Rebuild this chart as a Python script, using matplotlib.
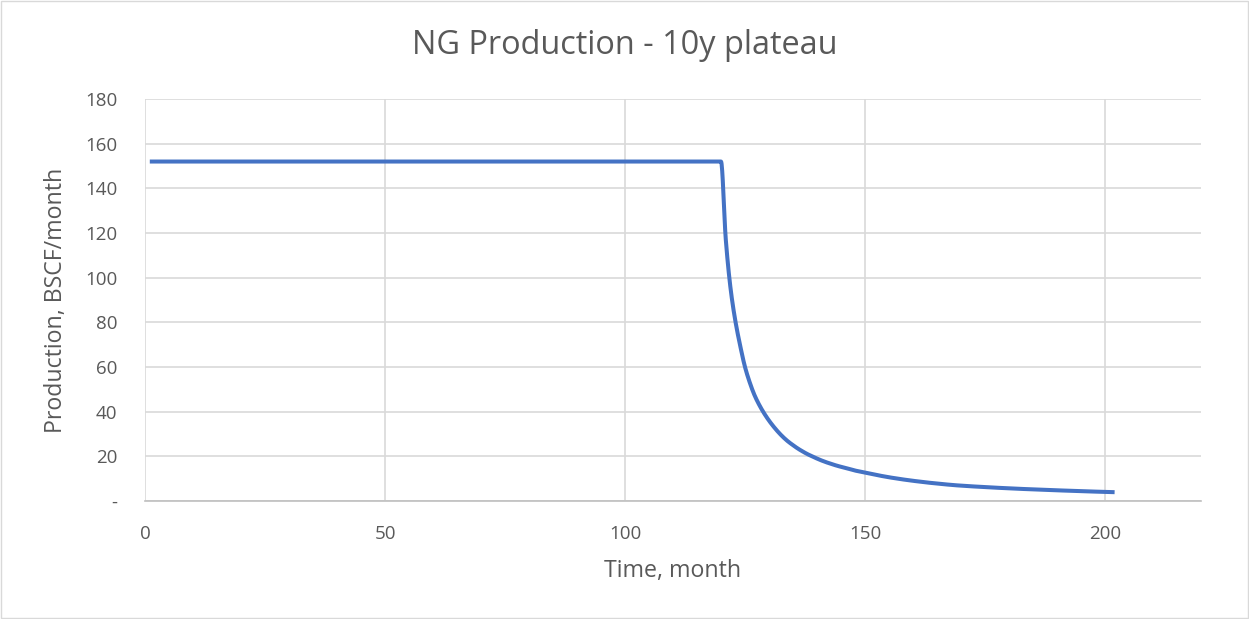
import numpy as np
import matplotlib
matplotlib.use("Agg")
import matplotlib.pyplot as plt
from matplotlib.patches import Rectangle

# ---- data ----
plateau_months = list(range(1, 121))
plateau_values = [152.0] * len(plateau_months)

decline_months = list(range(121, 203))
decline_values = [
    117.0, 95.0, 80.5, 69.5, 60.0, 53.0, 47.3, 42.9, 39.2, 36.0,
    33.2, 30.7, 28.5, 26.6, 25.0, 23.5, 22.2, 21.0, 20.0, 19.0,
    18.1, 17.3, 16.6, 15.9, 15.3, 14.7, 14.2, 13.6, 13.2, 12.7,
    12.25, 11.8, 11.4, 11.0, 10.6, 10.3, 9.95, 9.63, 9.33, 9.05,
    8.78, 8.52, 8.27, 8.04, 7.81, 7.60, 7.40, 7.20, 7.03, 6.88,
    6.74, 6.60, 6.47, 6.34, 6.22, 6.10, 5.99, 5.88, 5.77, 5.67,
    5.57, 5.47, 5.38, 5.29, 5.20, 5.11, 5.03, 4.95, 4.87, 4.79,
    4.71, 4.63, 4.55, 4.48, 4.41, 4.34, 4.27, 4.20, 4.14, 4.08,
    4.01, 3.95,
]

months = plateau_months + decline_months
production = plateau_values + decline_values

title = "NG Production - 10y plateau"
xlabel = "Time, month"
ylabel = "Production, BSCF/month"
xticks = [0, 50, 100, 150, 200]
yticks = [0, 20, 40, 60, 80, 100, 120, 140, 160, 180]
ytick_labels = ["-", "20", "40", "60", "80", "100", "120", "140", "160", "180"]


def smooth(x, y, n=16):
    """Monotone cubic (Fritsch-Carlson) curve through the data points, like a smoothed line."""
    x = np.asarray(x, float)
    y = np.asarray(y, float)
    h = np.diff(x)
    d = np.diff(y) / h
    m = np.zeros_like(y)
    for k in range(1, len(y) - 1):
        if d[k - 1] * d[k] > 0:
            w1 = 2 * h[k] + h[k - 1]
            w2 = h[k] + 2 * h[k - 1]
            m[k] = (w1 + w2) / (w1 / d[k - 1] + w2 / d[k])
    m[0], m[-1] = d[0], d[-1]
    t = np.linspace(0, 1, n, endpoint=False)
    h00 = 2 * t**3 - 3 * t**2 + 1
    h10 = t**3 - 2 * t**2 + t
    h01 = -2 * t**3 + 3 * t**2
    h11 = t**3 - t**2
    xs, ys = [], []
    for k in range(len(y) - 1):
        xs.append(x[k] + t * h[k])
        ys.append(h00 * y[k] + h10 * h[k] * m[k] + h01 * y[k + 1] + h11 * h[k] * m[k + 1])
    xs.append([x[-1]])
    ys.append([y[-1]])
    return np.concatenate(xs), np.concatenate(ys)


plt.rcParams["font.family"] = ["Open Sans", "DejaVu Sans"]
text_color = "#595959"

fig = plt.figure(figsize=(12.49, 6.19), dpi=100)
fig.patches.append(Rectangle((0.0008, 0.0016), 0.9984, 0.9968, transform=fig.transFigure,
                             fill=False, edgecolor="#d9d9d9", linewidth=1.0))
ax = fig.add_axes([145 / 1249, 1 - 501 / 619, (1201 - 145) / 1249, (501 - 99) / 619])

sx, sy = smooth(months, production)
ax.plot(sx, sy, color="#4472C4", linewidth=2.9, solid_capstyle="butt", solid_joinstyle="round")

ax.set_xlim(0, 220)
ax.set_ylim(0, 180)
ax.set_xticks(xticks)
ax.set_yticks(yticks)
ax.set_yticklabels(ytick_labels)

ax.grid(True, color="#d9d9d9", linewidth=1.2)
ax.set_axisbelow(True)
for s in ["top", "right", "left"]:
    ax.spines[s].set_visible(False)
ax.spines["bottom"].set_color("#bfbfbf")
ax.spines["bottom"].set_linewidth(1.2)
ax.tick_params(axis="both", length=0, labelsize=13.5, colors=text_color)
ax.tick_params(axis="x", pad=17)
ax.tick_params(axis="y", pad=20)

ax.set_xlabel(xlabel, fontsize=16.7, color=text_color, labelpad=12)
ax.set_ylabel(ylabel, fontsize=16.7, color=text_color, labelpad=12)
fig.text(0.5, 1 - 46 / 619, title, ha="center", va="center", fontsize=23.4, color=text_color)

fig.savefig("out.png", dpi=100)
